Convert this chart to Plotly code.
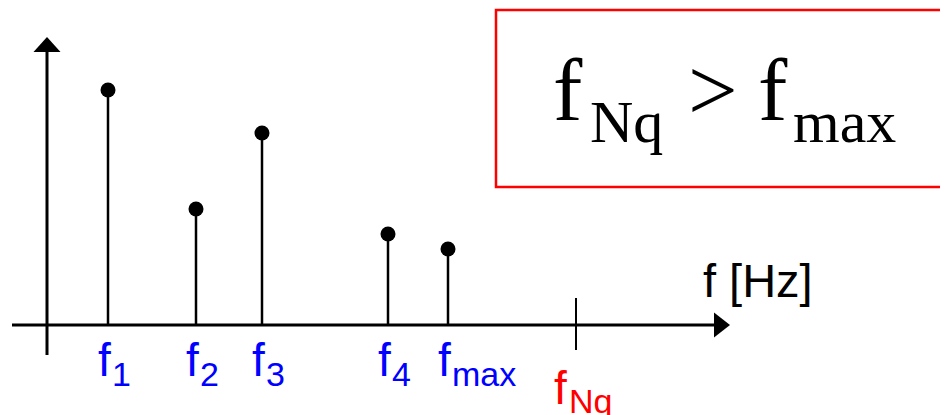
import plotly.graph_objects as go

# ---- data (units: arbitrary frequency / amplitude) ----
freq_positions = [61, 149, 215, 341, 401]
amplitudes = [235, 116, 192, 91, 76]
freq_subscripts = ["1", "2", "3", "4", "max"]
nyquist_position = 529
nyquist_subscript = "Nq"
axis_label = "f [Hz]"
box_main = ["f", ">", "f"]
box_subs = ["Nq", "max"]

W, H = 948, 415
X0, Y0 = 47, 325   # screen pixel position of origin
OFF = 8            # page body margin

BLUE = "#0000FF"
RED = "#FF0000"
SANS = "Liberation Sans, Arial, sans-serif"
SERIF = "Liberation Serif, Times New Roman, serif"

fig = go.Figure()

# stems
sx, sy = [], []
for f, a in zip(freq_positions, amplitudes):
    sx += [f, f, None]
    sy += [0, a, None]
fig.add_trace(go.Scatter(x=sx, y=sy, mode="lines",
                         line=dict(color="black", width=2.5), hoverinfo="skip"))
fig.add_trace(go.Scatter(x=freq_positions, y=amplitudes, mode="markers",
                         marker=dict(color="black", size=15), hoverinfo="skip"))

shapes = []
# horizontal axis
shapes.append(dict(type="line", x0=-35, x1=668, y0=0, y1=0,
                   line=dict(color="black", width=3)))
shapes.append(dict(type="path", path="M 667 12.5 L 683 0 L 667 -12.5 Z",
                   fillcolor="black", line=dict(color="black", width=0)))
# vertical axis
shapes.append(dict(type="line", x0=0, x1=0, y0=-30, y1=274,
                   line=dict(color="black", width=3)))
shapes.append(dict(type="path", path="M -13.5 273 L 0 288 L 13.5 273 Z",
                   fillcolor="black", line=dict(color="black", width=0)))
# Nyquist tick
shapes.append(dict(type="line", x0=nyquist_position, x1=nyquist_position, y0=-25, y1=27,
                   line=dict(color="black", width=2)))
# red box
shapes.append(dict(type="rect", x0=449, x1=960, y0=315, y1=138,
                   line=dict(color=RED, width=2.5), fillcolor="rgba(0,0,0,0)"))

ann = []
def txt(px, py, s, size, color, family):
    # px, py are screen pixel positions -> data coordinates
    ann.append(dict(x=px - X0, y=Y0 - py, text=s, showarrow=False, xanchor="left",
                    yanchor="middle", font=dict(size=size, color=color, family=family),
                    xref="x", yref="y"))

# frequency labels
for f, sub in zip(freq_positions, freq_subscripts):
    fx = f + X0
    txt(fx - 12, 360, "f", 46, BLUE, SANS)
    txt(fx + 2, 374, sub, 34, BLUE, SANS)
nx = nyquist_position + X0
txt(nx - 24, 388, "f", 46, RED, SANS)
txt(nx - 9, 401, nyquist_subscript, 34, RED, SANS)

# axis label
txt(701, 280, axis_label, 47, "black", SANS)

# box formula
txt(551, 90, box_main[0], 88, "black", SERIF)
txt(588, 122, box_subs[0], 60, "black", SERIF)
txt(686, 90, box_main[1], 88, "black", SERIF)
txt(756, 90, box_main[2], 88, "black", SERIF)
txt(791, 122, box_subs[1], 60, "black", SERIF)

fig.update_layout(
    width=W, height=H, margin=dict(l=0, r=0, t=0, b=0),
    paper_bgcolor="white", plot_bgcolor="white", showlegend=False,
    xaxis=dict(range=[OFF - X0, OFF + W - X0], visible=False, fixedrange=True),
    yaxis=dict(range=[Y0 - OFF - H, Y0 - OFF], visible=False, fixedrange=True),
    shapes=shapes, annotations=ann,
)
fig.write_html("out.html")
